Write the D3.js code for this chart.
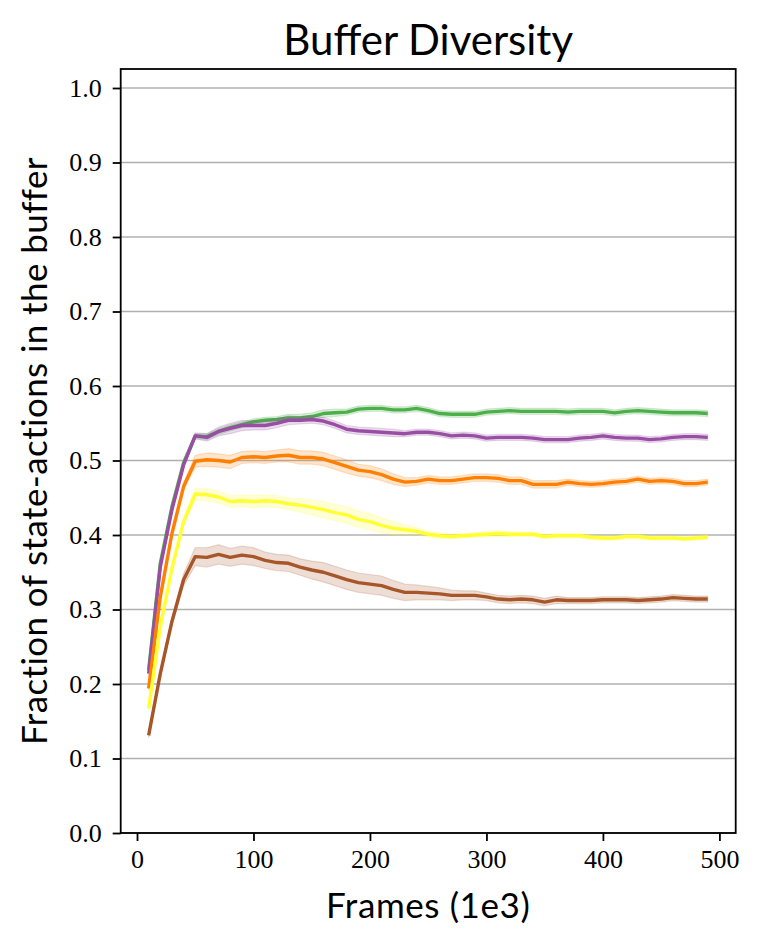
<!DOCTYPE html>
<html lang="en">
<head>
    <meta charset="UTF-8">
    <title>Buffer Diversity</title>
    <script src="https://d3js.org/d3.v7.min.js"></script>
    <style>
        body { margin: 0; background: #fff; }
    </style>
</head>
<body>
<script>
    // frames (1e3)
    var frames = [10, 20, 30, 40, 50, 60, 70, 80, 90, 100, 110, 120, 130, 140, 150, 160, 170, 180, 190, 200,
        210, 220, 230, 240, 250, 260, 270, 280, 290, 300, 310, 320, 330, 340, 350, 360, 370, 380, 390, 400,
        410, 420, 430, 440, 450, 460, 470, 480, 490];

    var greenVals = [0.219, 0.362, 0.438, 0.497, 0.533, 0.532, 0.539, 0.544, 0.548, 0.552, 0.554, 0.555, 0.557, 0.557, 0.559, 0.563,
        0.564, 0.565, 0.569, 0.570, 0.570, 0.568, 0.568, 0.570, 0.567, 0.563, 0.562, 0.562, 0.562, 0.565, 0.566, 0.567, 0.566,
        0.566, 0.566, 0.566, 0.565, 0.566, 0.566, 0.566, 0.564, 0.566, 0.567, 0.566, 0.565, 0.564, 0.564, 0.564, 0.563];
    var purpleVals = [0.214, 0.357, 0.434, 0.494, 0.533, 0.531, 0.539, 0.543, 0.547, 0.547, 0.547, 0.550, 0.554, 0.554, 0.555, 0.553,
        0.548, 0.542, 0.540, 0.539, 0.538, 0.537, 0.536, 0.538, 0.538, 0.536, 0.533, 0.534, 0.533, 0.530, 0.531, 0.531, 0.531,
        0.530, 0.528, 0.528, 0.528, 0.530, 0.531, 0.533, 0.531, 0.530, 0.530, 0.528, 0.529, 0.531, 0.532, 0.532, 0.531];
    var orangeVals = [0.194, 0.317, 0.402, 0.465, 0.499, 0.501, 0.500, 0.498, 0.504, 0.505, 0.504, 0.506, 0.507, 0.504, 0.504, 0.502,
        0.497, 0.492, 0.487, 0.485, 0.481, 0.475, 0.471, 0.472, 0.475, 0.473, 0.473, 0.475, 0.477, 0.477, 0.476, 0.473, 0.473,
        0.468, 0.468, 0.468, 0.471, 0.469, 0.468, 0.469, 0.471, 0.472, 0.475, 0.472, 0.473, 0.472, 0.469, 0.469, 0.471];
    var yellowVals = [0.167, 0.277, 0.355, 0.418, 0.455, 0.454, 0.451, 0.445, 0.446, 0.445, 0.446, 0.445, 0.442, 0.440, 0.437, 0.434,
        0.430, 0.427, 0.421, 0.418, 0.413, 0.409, 0.407, 0.405, 0.401, 0.399, 0.398, 0.399, 0.400, 0.401, 0.402, 0.401, 0.401,
        0.401, 0.398, 0.399, 0.399, 0.399, 0.397, 0.396, 0.396, 0.398, 0.398, 0.396, 0.396, 0.396, 0.395, 0.396, 0.397];
    var brownVals = [0.131, 0.214, 0.284, 0.340, 0.371, 0.370, 0.374, 0.370, 0.373, 0.371, 0.366, 0.363, 0.362, 0.357, 0.353, 0.350,
        0.345, 0.340, 0.336, 0.334, 0.332, 0.327, 0.323, 0.323, 0.322, 0.321, 0.319, 0.319, 0.319, 0.317, 0.314, 0.313, 0.314,
        0.313, 0.310, 0.313, 0.312, 0.312, 0.312, 0.313, 0.313, 0.313, 0.312, 0.313, 0.314, 0.316, 0.315, 0.314, 0.314];

    // half width of the shaded band around each line
    var greenSpread = [0.003, 0.003, 0.003, 0.003, 0.003, 0.004, 0.004, 0.004, 0.004, 0.004, 0.004, 0.004, 0.005, 0.005, 0.005, 0.005,
        0.005, 0.004, 0.004, 0.004, 0.004, 0.004, 0.004, 0.004, 0.004, 0.004, 0.004, 0.004, 0.004, 0.004, 0.004, 0.004, 0.004,
        0.004, 0.004, 0.004, 0.004, 0.004, 0.004, 0.004, 0.004, 0.004, 0.004, 0.004, 0.004, 0.004, 0.004, 0.004, 0.004];
    var purpleSpread = [0.003, 0.003, 0.003, 0.003, 0.004, 0.005, 0.006, 0.007, 0.007, 0.006, 0.006, 0.006, 0.006, 0.005, 0.005, 0.005,
        0.005, 0.005, 0.005, 0.005, 0.005, 0.005, 0.004, 0.004, 0.004, 0.004, 0.004, 0.004, 0.004, 0.004, 0.004, 0.004, 0.004,
        0.004, 0.004, 0.004, 0.004, 0.004, 0.004, 0.004, 0.004, 0.004, 0.004, 0.004, 0.004, 0.004, 0.004, 0.004, 0.004];
    var orangeSpread = [0.003, 0.003, 0.004, 0.005, 0.008, 0.009, 0.009, 0.009, 0.008, 0.008, 0.008, 0.008, 0.009, 0.009, 0.009, 0.009,
        0.009, 0.009, 0.008, 0.008, 0.008, 0.007, 0.006, 0.005, 0.005, 0.005, 0.005, 0.005, 0.005, 0.005, 0.005, 0.005, 0.005,
        0.005, 0.005, 0.005, 0.004, 0.004, 0.004, 0.004, 0.004, 0.004, 0.004, 0.004, 0.004, 0.004, 0.004, 0.004, 0.004];
    var yellowSpread = [0.003, 0.003, 0.004, 0.005, 0.008, 0.008, 0.008, 0.008, 0.008, 0.008, 0.008, 0.008, 0.008, 0.009, 0.010, 0.011,
        0.011, 0.011, 0.011, 0.011, 0.010, 0.009, 0.007, 0.005, 0.004, 0.004, 0.003, 0.003, 0.003, 0.004, 0.004, 0.004, 0.003,
        0.003, 0.003, 0.003, 0.003, 0.003, 0.003, 0.003, 0.003, 0.003, 0.003, 0.003, 0.003, 0.003, 0.003, 0.003, 0.003];
    var brownSpread = [0.003, 0.004, 0.005, 0.008, 0.012, 0.013, 0.013, 0.012, 0.012, 0.012, 0.011, 0.011, 0.011, 0.011, 0.012, 0.013,
        0.013, 0.013, 0.013, 0.013, 0.013, 0.012, 0.011, 0.010, 0.009, 0.008, 0.007, 0.006, 0.006, 0.005, 0.005, 0.005, 0.005,
        0.005, 0.005, 0.005, 0.004, 0.004, 0.004, 0.004, 0.004, 0.004, 0.004, 0.004, 0.004, 0.004, 0.004, 0.004, 0.004];

    var yTicks = [0.0, 0.1, 0.2, 0.3, 0.4, 0.5, 0.6, 0.7, 0.8, 0.9, 1.0];
    var xTicks = [0, 100, 200, 300, 400, 500];

    var series = [
        {color: '#4daf4a', vals: greenVals, spread: greenSpread},
        {color: '#984ea3', vals: purpleVals, spread: purpleSpread},
        {color: '#ff7f00', vals: orangeVals, spread: orangeSpread},
        {color: '#ffff33', vals: yellowVals, spread: yellowSpread},
        {color: '#a65628', vals: brownVals, spread: brownSpread}
    ];

    var width = 760, height = 948;
    var margin = {top: 69, right: 24.3, bottom: 115, left: 120.7};
    var svg = d3.select('body').append('svg').attr('width', width).attr('height', height);

    var x = d3.scaleLinear().domain([-14, 514]).range([margin.left, width - margin.right]);
    var y = d3.scaleLinear().domain([0, 1.0255]).range([height - margin.bottom, margin.top]);

    var serifFont = '"Liberation Serif", "DejaVu Serif", serif';
    var sansFont = 'Lato, "DejaVu Sans", sans-serif';

    // horizontal grid
    svg.append('g')
        .selectAll('line')
        .data(yTicks)
        .enter().append('line')
        .attr('x1', margin.left).attr('x2', width - margin.right)
        .attr('y1', d => y(d)).attr('y2', d => y(d))
        .attr('stroke', '#b0b0b0')
        .attr('stroke-width', 1.6);

    var plot = svg.append('g');

    series.forEach(s => {
        var pts = frames.map((f, i) => ({x: f, v: s.vals[i], sd: s.spread[i]}));
        var area = d3.area()
            .x(d => x(d.x))
            .y0(d => y(d.v - d.sd))
            .y1(d => y(d.v + d.sd));
        plot.append('path')
            .datum(pts)
            .attr('d', area)
            .attr('fill', s.color)
            .attr('fill-opacity', 0.2)
            .attr('stroke', s.color)
            .attr('stroke-opacity', 0.2)
            .attr('stroke-width', 1.2);
        var line = d3.line().x(d => x(d.x)).y(d => y(d.v));
        plot.append('path')
            .datum(pts)
            .attr('d', line)
            .attr('fill', 'none')
            .attr('stroke', s.color)
            .attr('stroke-width', 3.4)
            .attr('stroke-linejoin', 'round');
    });

    // axes
    var yAxis = svg.append('g')
        .attr('transform', 'translate(' + margin.left + ',0)')
        .call(d3.axisLeft(y).tickValues(yTicks).tickFormat(d3.format('.1f')).tickSize(8).tickPadding(11));
    var xAxis = svg.append('g')
        .attr('transform', 'translate(0,' + (height - margin.bottom) + ')')
        .call(d3.axisBottom(x).tickValues(xTicks).tickFormat(d3.format('d')).tickSize(8).tickPadding(9));

    [xAxis, yAxis].forEach(a => {
        a.select('.domain').remove();
        a.selectAll('.tick line').attr('stroke', '#000').attr('stroke-width', 1.8);
        a.selectAll('.tick text')
            .attr('font-family', serifFont)
            .attr('font-size', 26)
            .attr('fill', '#000');
    });

    // frame
    svg.append('rect')
        .attr('x', margin.left).attr('y', margin.top)
        .attr('width', width - margin.left - margin.right)
        .attr('height', height - margin.top - margin.bottom)
        .attr('fill', 'none')
        .attr('stroke', '#000')
        .attr('stroke-width', 1.8);

    // title and labels
    svg.append('text')
        .attr('x', (margin.left + width - margin.right) / 2)
        .attr('y', 55)
        .attr('text-anchor', 'middle')
        .attr('font-family', sansFont)
        .attr('font-size', 42)
        .text('Buffer Diversity');

    svg.append('text')
        .attr('x', (margin.left + width - margin.right) / 2)
        .attr('y', 918)
        .attr('text-anchor', 'middle')
        .attr('font-family', sansFont)
        .attr('font-size', 35)
        .attr('letter-spacing', 0.6)
        .text('Frames (1e3)');

    svg.append('text')
        .attr('transform', 'translate(47,' + ((margin.top + height - margin.bottom) / 2) + ') rotate(-90)')
        .attr('text-anchor', 'middle')
        .attr('font-family', sansFont)
        .attr('font-size', 35)
        .attr('letter-spacing', 0.4)
        .text('Fraction of state-actions in the buffer');
</script>
</body>
</html>
